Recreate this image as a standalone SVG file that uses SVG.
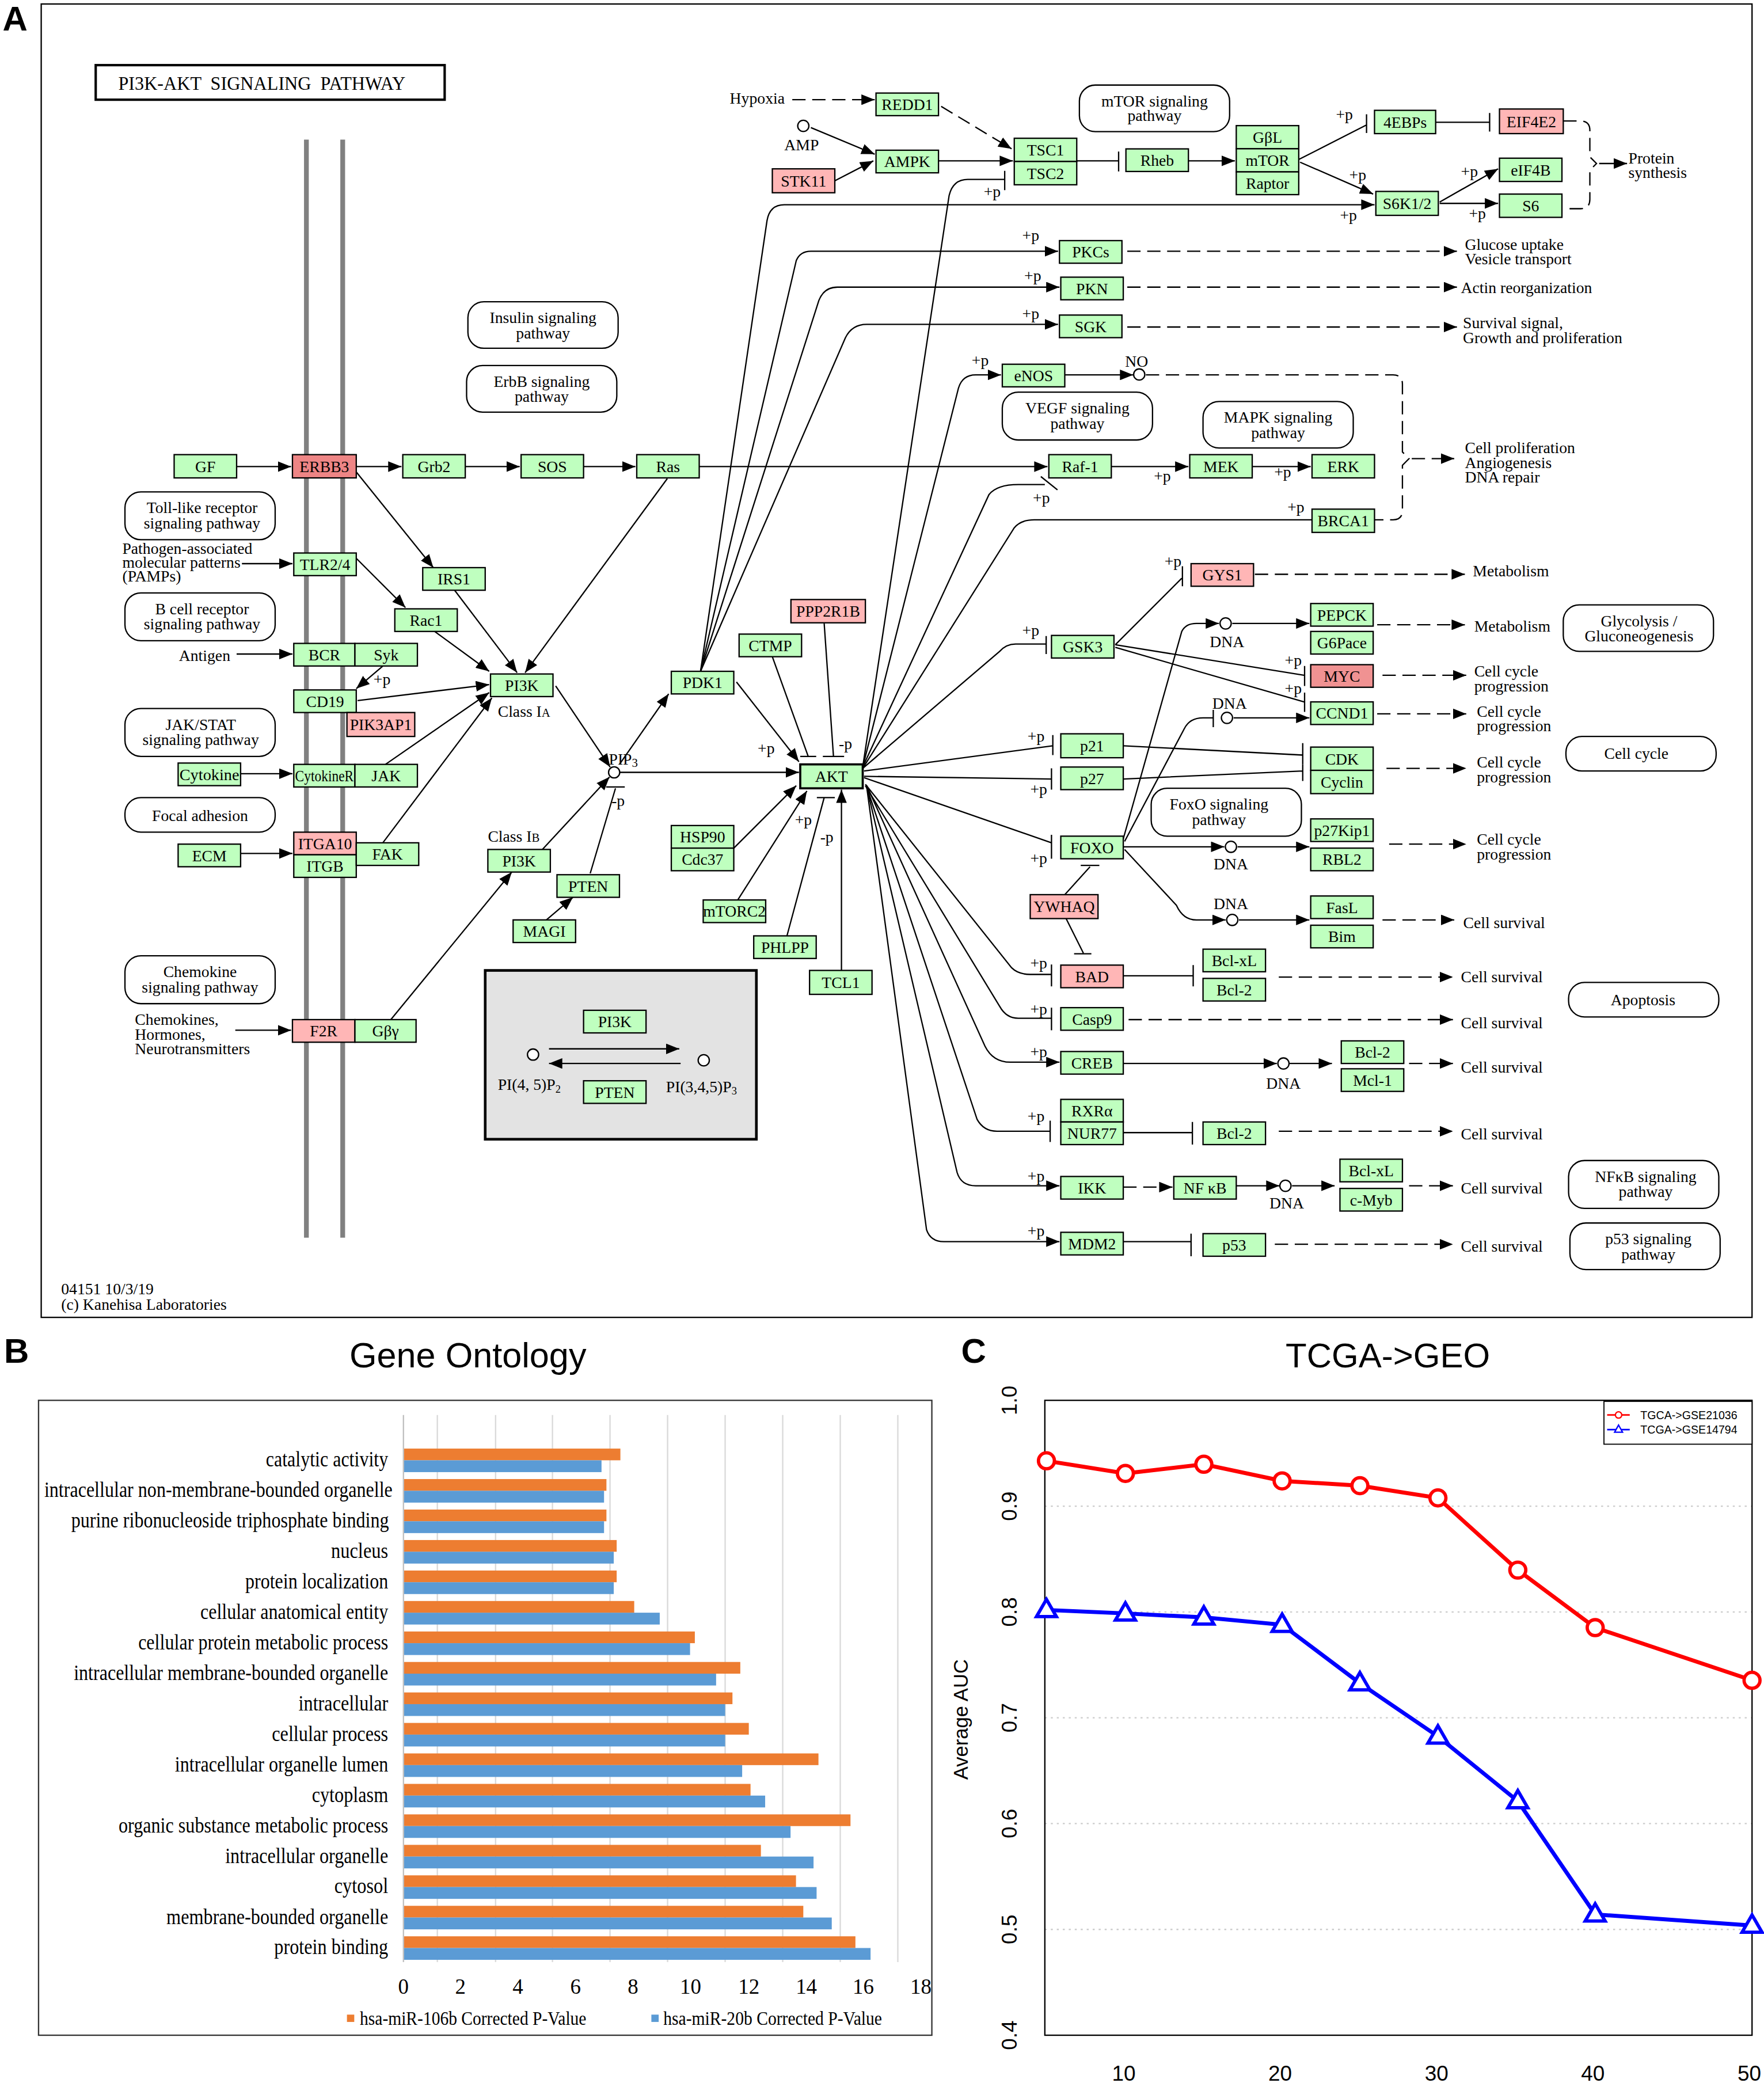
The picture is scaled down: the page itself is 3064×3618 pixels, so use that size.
<svg xmlns="http://www.w3.org/2000/svg" width="3064" height="3618" viewBox="0 0 3064 3618">
<style>
.n rect{fill:#bfffbf;stroke:#000;stroke-width:1}
.r rect{fill:#ffb6b6}
.rr rect{fill:#ee8585}
.n text,.lb{font-family:"Liberation Serif",serif;font-size:12px;fill:#000}
.n text,.m{text-anchor:middle}
.pw rect{fill:#fff;stroke:#000;stroke-width:1}
.pw text{font-family:"Liberation Serif",serif;font-size:12px;text-anchor:middle}
#connectors path{fill:none;stroke:#000;stroke-width:1}
#connectors .a{marker-end:url(#ar)}
#connectors .d{stroke-dasharray:10 5}
.cp circle{fill:#fff;stroke:#000;stroke-width:1}
.gl{font-family:"Liberation Serif",serif;font-size:16px;text-anchor:end}
.ax{font-family:"Liberation Serif",serif;font-size:16px;text-anchor:middle}
.sans{font-family:"Liberation Sans",Arial,sans-serif}
.pl{font-family:"Liberation Sans",Arial,sans-serif;font-weight:bold;font-size:26px}
</style>
<defs>
<marker id="ar" viewBox="0 0 10 8" refX="10" refY="4" markerWidth="10" markerHeight="8" orient="auto" markerUnits="userSpaceOnUse"><path d="M0,0 L10,4 L0,8 z" fill="#000"/></marker>
</defs>
<rect width="3064" height="3618" fill="#fff"/>
<g transform="scale(2.30897)">
<!-- Panel A -->
<text class="pl" x="2" y="23">A</text>
<rect x="31" y="3" width="1287" height="988" fill="none" stroke="#000" stroke-width="1"/>
<g id="title"><rect x="72" y="49" width="262.5" height="26" fill="#fff" stroke="#000" stroke-width="1.8"/><text class="lb" x="89" y="67.5" style="font-size:15px;white-space:pre" textLength="216" lengthAdjust="spacingAndGlyphs">PI3K-AKT  SIGNALING  PATHWAY</text></g>
<g id="membrane" stroke="#808080" stroke-width="3.6"><line x1="230.5" y1="105" x2="230.5" y2="931"/><line x1="257.8" y1="105" x2="257.8" y2="931"/></g>

<g id="pathways" class="pw">
<g id="pw-mtor"><rect x="812" y="64" width="113" height="35" rx="12"/><text x="868.5" y="80">mTOR signaling</text><text x="868.5" y="91">pathway</text></g>
<g id="pw-insulin"><rect x="352" y="227" width="113" height="35" rx="12"/><text x="408.5" y="243">Insulin signaling</text><text x="408.5" y="254.5">pathway</text></g>
<g id="pw-erbb"><rect x="351" y="275" width="113" height="35" rx="12"/><text x="407.5" y="291">ErbB signaling</text><text x="407.5" y="302.5">pathway</text></g>
<g id="pw-toll"><rect x="94" y="370" width="113" height="36" rx="12"/><text x="152" y="386">Toll-like receptor</text><text x="152" y="397.5">signaling pathway</text></g>
<g id="pw-bcell"><rect x="94" y="446" width="113" height="36" rx="12"/><text x="152" y="462">B cell receptor</text><text x="152" y="473.5">signaling pathway</text></g>
<g id="pw-jak"><rect x="94" y="533" width="113" height="36" rx="12"/><text x="151" y="549">JAK/STAT</text><text x="151" y="560.5">signaling pathway</text></g>
<g id="pw-focal"><rect x="94" y="600" width="113" height="26" rx="12"/><text x="150.5" y="617.5">Focal adhesion</text></g>
<g id="pw-chemokine"><rect x="94" y="719" width="113" height="36" rx="12"/><text x="150.5" y="735">Chemokine</text><text x="150.5" y="746.5">signaling pathway</text></g>
<g id="pw-vegf"><rect x="754" y="295" width="113" height="36" rx="12"/><text x="810.5" y="311">VEGF signaling</text><text x="810.5" y="322.5">pathway</text></g>
<g id="pw-mapk"><rect x="905" y="302" width="113" height="35" rx="12"/><text x="961.5" y="318">MAPK signaling</text><text x="961.5" y="329.5">pathway</text></g>
<g id="pw-foxo"><rect x="866" y="593" width="113" height="36" rx="12"/><text x="917" y="609">FoxO signaling</text><text x="917" y="620.5">pathway</text></g>
<g id="pw-glyco"><rect x="1176" y="455" width="113" height="35" rx="12"/><text x="1233" y="471">Glycolysis /</text><text x="1233" y="482.5">Gluconeogenesis</text></g>
<g id="pw-cellcycle"><rect x="1178" y="554" width="113" height="26" rx="12"/><text x="1231" y="571">Cell cycle</text></g>
<g id="pw-apoptosis"><rect x="1180" y="739" width="113" height="26" rx="12"/><text x="1236" y="756">Apoptosis</text></g>
<g id="pw-nfkb"><rect x="1180" y="873" width="113" height="36" rx="12"/><text x="1238" y="889">NFκB signaling</text><text x="1238" y="900.5">pathway</text></g>
<g id="pw-p53"><rect x="1181" y="920" width="113" height="35" rx="12"/><text x="1240" y="936">p53 signaling</text><text x="1240" y="947.5">pathway</text></g>
</g>

<g id="legendbox"><rect x="365" y="730" width="204" height="127" fill="#e3e3e3" stroke="#000" stroke-width="2"/>
<text class="lb" x="374.5" y="820">PI(4, 5)P<tspan font-size="8" dy="2">2</tspan></text>
<text class="lb" x="501" y="821.5">PI(3,4,5)P<tspan font-size="8" dy="2">3</tspan></text></g>

<g id="connectors">
<path class="a" d="M178,351 H219"/>
<path class="a" d="M268,351 H302"/>
<path class="a" d="M350,351 H391"/>
<path class="a" d="M439,351 H478"/>
<path class="a" d="M526,351 H788"/>
<path class="a" d="M836,351 H894"/>
<path class="a" d="M942,351 H986"/>
<path class="a" d="M268,355 L326,427"/>
<path class="a" d="M502,360 L395,506"/>
<path class="a" d="M182,424 H220"/>
<path class="a" d="M268,420 L305,457"/>
<path class="a" d="M342,444 L389,506"/>
<path class="a" d="M327,475 L368,505"/>
<path class="a" d="M178,492 H220"/>
<path class="a" d="M288,501 L268,518"/>
<path class="a" d="M269,527 L368,515"/>
<path class="a" d="M181,582 H220"/>
<path class="a" d="M290,575 L368,521"/>
<path class="a" d="M181,642 H220"/>
<path class="a" d="M288,634 L370,525"/>
<path class="a" d="M177,775 H219"/>
<path class="a" d="M294,767 L385,656"/>
<path class="a" d="M418,516 L459,577"/>
<path class="a" d="M408,639 L458.5,584.5"/>
<path class="a" d="M466,581 H601"/>
<path class="a" d="M466,575 L503,522"/>
<path class="a" d="M411,692 L431,675"/>
<path class="a" d="M413,789 H511"/>
<path class="a" d="M512,800 H413"/>
<path class="a d" d="M596,75 H658"/>
<path class="a d" d="M708,80 L761,112"/>
<path class="a" d="M610,96 L658,116"/>
<path class="a" d="M628,136 L657,121"/>
<path class="a" d="M706,121 H762"/>
<path d="M810,121 H841.5 M841.5,114 V129"/>
<path class="a" d="M894,121 H929"/>
<path d="M977,120 L1028,94 M1028,86 V100"/>
<path d="M1080,92 H1120.6 M1120.6,85 V99"/>
<path class="a" d="M978,122 L1033,146"/>
<path class="a" d="M1083,152 L1127,127"/>
<path class="a" d="M1083,153 H1127"/>
<path class="d" d="M1176,91 H1189 Q1196,91 1196,98 V118 L1201,123 L1196,128 V150 Q1196,157 1189,157 H1176"/>
<path class="a" d="M1203,123 H1224"/>
<path class="a" d="M527,505 L577,166 Q579,154 590,154 H1034"/>
<path class="a" d="M527,505 L599,196 Q602,189 610,189 H796"/>
<path class="a" d="M527,505 L616,226 Q620,216 630,216 H797"/>
<path class="a" d="M527,505 L636,254 Q641,244 652,244 H796"/>
<path class="a d" d="M848,189 H1096"/>
<path class="a d" d="M848,216 H1096"/>
<path class="a d" d="M848,246 H1096"/>
<path d="M649,577 L714,147 Q717,135 728,135 H755.8 M755.8,128.5 V143"/>
<path class="a" d="M649,577 L721,292 Q724,282 734,282 H753"/>
<path class="a" d="M801,282 H852.5"/>
<path class="d" d="M862,282 H1048 Q1055,282 1055,289 V340 L1060,345 L1055,350 V384 Q1055,391 1048,391 H1034"/>
<path class="a d" d="M1062,345 H1094"/>
<path d="M649,577 L744,372 Q750,364.5 766,364.5 H786 M783,358.5 L795.5,368.5"/>
<path d="M649,578 L763,397 Q768,391 778,391 H987"/>
<path d="M649,578 L752,490 Q757,484.5 764,484.5 H787 M787,478.5 V492"/>
<path d="M839,485 L889,435 M889.5,426 V441"/>
<path class="a d" d="M944,432 H1102"/>
<path d="M839,485 L981,508 M981.4,501 V516"/>
<path d="M839,487 L981,528 M981.4,521 V535.5"/>
<path class="a" d="M845,631 L889,475 Q892,469 900,469 H917"/>
<path class="a" d="M927,469 H985"/>
<path class="a d" d="M1036,470 H1102"/>
<path class="a d" d="M1040,508 H1103"/>
<path d="M846,633 L891,548 Q895,540 905,540 H912.7 M912.7,534 V547"/>
<path class="a" d="M928,540 H985"/>
<path class="a d" d="M1036,537 H1103"/>
<path d="M650,580 L792,561 M792,553 V568"/>
<path d="M650,584 L791,586 M791,578 V594"/>
<path d="M845,561 L980,568 M980,559 V575"/>
<path d="M845,586 L980,580 M980,575 V587.5"/>
<path class="a d" d="M1043,578 H1103"/>
<path d="M650,585 L791,634 M791,628 V646"/>
<path class="a" d="M845,637 H921"/>
<path class="a" d="M931,637 H985"/>
<path class="a d" d="M1045,635 H1103"/>
<path class="a" d="M846,639 L885,681 Q890,692 900,692 H922"/>
<path class="a" d="M932,692 H985"/>
<path class="a d" d="M1040,692 H1094"/>
<path d="M801,673 L820,652 M813,651 H827"/>
<path d="M802,691 L815,717 M808,717.5 H821"/>
<path d="M651,590 L761,728 Q766,733 775,733 H791 M791,725.5 V742"/>
<path d="M845,734 H897.6 M897.6,726 V742"/>
<path class="a d" d="M962,735 H1093"/>
<path d="M651,591 L752,757 Q757,766 766,766 H791 M791,758 V775"/>
<path class="a d" d="M849,767 H1093"/>
<path class="a" d="M652,591 L741,787 Q747,799 760,799 H797"/>
<path class="a" d="M845,800 H960.5"/>
<path class="a" d="M970,800 H1002"/>
<path class="a d" d="M1060,800 H1093"/>
<path d="M652,592 L735,842 Q740,851 750,851 H790 M790,843 V859"/>
<path d="M845,852 H897 M897,844 V861"/>
<path class="a d" d="M962,851 H1093"/>
<path class="a" d="M652,592 L720,882 Q723,892 734,892 H797"/>
<path class="a d" d="M845,893 H882"/>
<path class="a" d="M930,892 H962.5"/>
<path class="a" d="M972,892 H1004"/>
<path class="a d" d="M1060,892 H1093"/>
<path class="a" d="M652,592 L697,925 Q700,934 710,934 H797"/>
<path d="M845,934 H896 M896,928 V945"/>
<path class="a d" d="M959,936 H1093"/>
<path class="a" d="M554,513 L601,573"/>
<path class="a" d="M552,638 L599,591"/>
<path class="a" d="M555,677 L607,595"/>
<path class="a" d="M633,730 V594"/>
<path d="M581,494 L608,569 M602,569 H614"/>
<path d="M620,469 L627,569 M619,569 H635"/>
<path d="M592,704 L620,600 M614.5,600 H628"/>
<path d="M444,657 L463,593 M456,592 H470"/>
</g>

<g id="compounds" class="cp">
<circle cx="604.3" cy="94.7" r="4.2"/><circle cx="857" cy="281.7" r="4.2"/><circle cx="462" cy="581" r="4.2"/>
<circle cx="922" cy="469" r="4.2"/><circle cx="923" cy="540" r="4.2"/><circle cx="926" cy="637" r="4.2"/><circle cx="927" cy="692" r="4.2"/>
<circle cx="965.5" cy="800" r="4.2"/><circle cx="967" cy="892" r="4.2"/><circle cx="401" cy="793.3" r="4.2"/><circle cx="529.4" cy="797.6" r="4.2"/>
</g>

<g id="nodes">
<g id="n-GF" class="n"><rect x="131" y="342" width="47" height="17.5"/><text x="154.5" y="355">GF</text></g>
<g id="n-ERBB3" class="n rr"><rect x="220" y="342" width="48" height="17.5"/><text x="244" y="355">ERBB3</text></g>
<g id="n-Grb2" class="n"><rect x="303" y="342" width="47" height="17.5"/><text x="326.5" y="355">Grb2</text></g>
<g id="n-SOS" class="n"><rect x="392" y="342" width="47" height="17.5"/><text x="415.5" y="355">SOS</text></g>
<g id="n-Ras" class="n"><rect x="479" y="342" width="47" height="17.5"/><text x="502.5" y="355">Ras</text></g>
<g id="n-TLR" class="n"><rect x="221" y="416" width="47" height="17"/><text x="244.5" y="428.7">TLR2/4</text></g>
<g id="n-IRS1" class="n"><rect x="318" y="427" width="47" height="17"/><text x="341.5" y="439.7">IRS1</text></g>
<g id="n-Rac1" class="n"><rect x="297" y="458" width="47" height="17"/><text x="320.5" y="470.7">Rac1</text></g>
<g id="n-BCR" class="n"><rect x="221" y="484" width="46" height="17"/><text x="244" y="496.7">BCR</text></g>
<g id="n-Syk" class="n"><rect x="267" y="484" width="47" height="17"/><text x="290.5" y="496.7">Syk</text></g>
<g id="n-CD19" class="n"><rect x="221" y="519" width="47" height="17"/><text x="244.5" y="531.7">CD19</text></g>
<g id="n-PIK3AP1" class="n r"><rect x="261" y="536" width="51" height="18"/><text x="286.5" y="549.2">PIK3AP1</text></g>
<g id="n-PI3K1" class="n"><rect x="369" y="507" width="47" height="17"/><text x="392.5" y="519.7">PI3K</text></g>
<g id="n-Cytokine" class="n"><rect x="134" y="574" width="47" height="17"/><text x="157.5" y="586.7" textLength="45" lengthAdjust="spacingAndGlyphs">Cytokine</text></g>
<g id="n-CytokineR" class="n"><rect x="221" y="575" width="46" height="17"/><text x="244" y="587.7" textLength="44" lengthAdjust="spacingAndGlyphs">CytokineR</text></g>
<g id="n-JAK" class="n"><rect x="267" y="575" width="47" height="17"/><text x="290.5" y="587.7">JAK</text></g>
<g id="n-ECM" class="n"><rect x="134" y="635" width="47" height="17"/><text x="157.5" y="647.7">ECM</text></g>
<g id="n-ITGA10" class="n r"><rect x="221" y="626" width="47" height="17"/><text x="244.5" y="638.7">ITGA10</text></g>
<g id="n-ITGB" class="n"><rect x="221" y="643" width="47" height="17"/><text x="244.5" y="655.7">ITGB</text></g>
<g id="n-FAK" class="n"><rect x="268" y="634" width="47" height="17"/><text x="291.5" y="646.7">FAK</text></g>
<g id="n-F2R" class="n r"><rect x="220" y="767" width="47" height="17"/><text x="243.5" y="779.7">F2R</text></g>
<g id="n-Gby" class="n"><rect x="267" y="767" width="46" height="17"/><text x="290" y="779.7">Gβγ</text></g>
<g id="n-PI3K2" class="n"><rect x="367" y="639" width="47" height="17"/><text x="390.5" y="651.7">PI3K</text></g>
<g id="n-PTEN" class="n"><rect x="419" y="658" width="47" height="17"/><text x="442.5" y="670.7">PTEN</text></g>
<g id="n-MAGI" class="n"><rect x="386" y="692" width="47" height="17"/><text x="409.5" y="704.7">MAGI</text></g>
<g id="n-PI3Kleg" class="n"><rect x="439" y="760" width="47" height="17"/><text x="462.5" y="772.7">PI3K</text></g>
<g id="n-PTENleg" class="n"><rect x="439" y="813" width="47" height="17"/><text x="462.5" y="825.7">PTEN</text></g>
<g id="n-REDD1" class="n"><rect x="659" y="70" width="47" height="17"/><text x="682.5" y="82.7">REDD1</text></g>
<g id="n-STK11" class="n r"><rect x="581" y="127" width="47" height="18"/><text x="604.5" y="140.2">STK11</text></g>
<g id="n-AMPK" class="n"><rect x="659" y="113" width="47" height="17"/><text x="682.5" y="125.7">AMPK</text></g>
<g id="n-TSC1" class="n"><rect x="763" y="104" width="47" height="17.5"/><text x="786.5" y="117">TSC1</text></g>
<g id="n-TSC2" class="n"><rect x="763" y="121.5" width="47" height="17.5"/><text x="786.5" y="134.5">TSC2</text></g>
<g id="n-Rheb" class="n"><rect x="847" y="112" width="47" height="17"/><text x="870.5" y="124.7">Rheb</text></g>
<g id="n-GbL" class="n"><rect x="930" y="94.5" width="47" height="17.4"/><text x="953.5" y="107.4">GβL</text></g>
<g id="n-mTOR" class="n"><rect x="930" y="111.9" width="47" height="17.4"/><text x="953.5" y="124.8">mTOR</text></g>
<g id="n-Raptor" class="n"><rect x="930" y="129.3" width="47" height="17.1"/><text x="953.5" y="142.1">Raptor</text></g>
<g id="n-4EBPs" class="n"><rect x="1034" y="83" width="46" height="17.5"/><text x="1057" y="96">4EBPs</text></g>
<g id="n-EIF4E2" class="n r"><rect x="1128" y="82" width="48" height="18.5"/><text x="1152" y="95.5">EIF4E2</text></g>
<g id="n-S6K" class="n"><rect x="1035" y="144" width="47" height="18"/><text x="1058.5" y="157.2">S6K1/2</text></g>
<g id="n-eIF4B" class="n"><rect x="1128" y="119" width="47" height="17.5"/><text x="1151.5" y="132">eIF4B</text></g>
<g id="n-S6" class="n"><rect x="1128" y="146" width="47" height="17.5"/><text x="1151.5" y="159">S6</text></g>
<g id="n-PKCs" class="n"><rect x="797" y="181" width="47" height="17"/><text x="820.5" y="193.7">PKCs</text></g>
<g id="n-PKN" class="n"><rect x="798" y="208.5" width="47" height="17"/><text x="821.5" y="221.2">PKN</text></g>
<g id="n-SGK" class="n"><rect x="797" y="237" width="47" height="17"/><text x="820.5" y="249.7">SGK</text></g>
<g id="n-eNOS" class="n"><rect x="754" y="274" width="47" height="17"/><text x="777.5" y="286.7">eNOS</text></g>
<g id="n-Raf1" class="n"><rect x="789" y="342" width="47" height="17.5"/><text x="812.5" y="355">Raf-1</text></g>
<g id="n-MEK" class="n"><rect x="895" y="342" width="47" height="17.5"/><text x="918.5" y="355">MEK</text></g>
<g id="n-ERK" class="n"><rect x="987" y="342" width="47" height="17.5"/><text x="1010.5" y="355">ERK</text></g>
<g id="n-BRCA1" class="n"><rect x="987" y="383" width="47" height="17.5"/><text x="1010.5" y="396">BRCA1</text></g>
<g id="n-PPP2R1B" class="n r"><rect x="595" y="451" width="56" height="17.5"/><text x="623" y="464">PPP2R1B</text></g>
<g id="n-CTMP" class="n"><rect x="556" y="477" width="47" height="17"/><text x="579.5" y="489.7">CTMP</text></g>
<g id="n-PDK1" class="n"><rect x="505" y="505" width="47" height="17"/><text x="528.5" y="517.7">PDK1</text></g>
<g id="n-AKT" class="n"><rect x="602" y="575" width="47" height="18" style="stroke-width:1.6"/><text x="625.5" y="588.2">AKT</text></g>
<g id="n-HSP90" class="n"><rect x="505" y="621" width="47" height="17"/><text x="528.5" y="633.7">HSP90</text></g>
<g id="n-Cdc37" class="n"><rect x="505" y="638" width="47" height="17"/><text x="528.5" y="650.7">Cdc37</text></g>
<g id="n-mTORC2" class="n"><rect x="529" y="677" width="47" height="17"/><text x="552.5" y="689.7">mTORC2</text></g>
<g id="n-PHLPP" class="n"><rect x="567" y="704" width="47" height="17"/><text x="590.5" y="716.7">PHLPP</text></g>
<g id="n-TCL1" class="n"><rect x="609" y="730" width="47" height="18"/><text x="632.5" y="743.2">TCL1</text></g>
<g id="n-GYS1" class="n r"><rect x="896" y="424" width="47" height="17"/><text x="919.5" y="436.7">GYS1</text></g>
<g id="n-GSK3" class="n"><rect x="791" y="478" width="47" height="17"/><text x="814.5" y="490.7">GSK3</text></g>
<g id="n-PEPCK" class="n"><rect x="986" y="454" width="47" height="17"/><text x="1009.5" y="466.7">PEPCK</text></g>
<g id="n-G6Pace" class="n"><rect x="986" y="475" width="47" height="17"/><text x="1009.5" y="487.7">G6Pace</text></g>
<g id="n-MYC" class="n rr"><rect x="986" y="500" width="47" height="17" style="fill:#f09292"/><text x="1009.5" y="512.7">MYC</text></g>
<g id="n-CCND1" class="n"><rect x="986" y="528" width="47" height="17"/><text x="1009.5" y="540.7">CCND1</text></g>
<g id="n-p21" class="n"><rect x="798" y="552" width="47" height="18"/><text x="821.5" y="565.2">p21</text></g>
<g id="n-p27" class="n"><rect x="798" y="577" width="47" height="17"/><text x="821.5" y="589.7">p27</text></g>
<g id="n-CDK" class="n"><rect x="986" y="562" width="47" height="17.5"/><text x="1009.5" y="575">CDK</text></g>
<g id="n-Cyclin" class="n"><rect x="986" y="579.5" width="47" height="17.5"/><text x="1009.5" y="592.5">Cyclin</text></g>
<g id="n-FOXO" class="n"><rect x="798" y="629" width="47" height="17"/><text x="821.5" y="641.7">FOXO</text></g>
<g id="n-p27Kip1" class="n"><rect x="986" y="616" width="47" height="17"/><text x="1009.5" y="628.7">p27Kip1</text></g>
<g id="n-RBL2" class="n"><rect x="986" y="638" width="47" height="17"/><text x="1009.5" y="650.7">RBL2</text></g>
<g id="n-FasL" class="n"><rect x="986" y="674" width="47" height="17"/><text x="1009.5" y="686.7">FasL</text></g>
<g id="n-Bim" class="n"><rect x="986" y="696" width="47" height="17"/><text x="1009.5" y="708.7">Bim</text></g>
<g id="n-YWHAQ" class="n r"><rect x="775" y="673" width="51" height="18"/><text x="800.5" y="686.2">YWHAQ</text></g>
<g id="n-BAD" class="n r"><rect x="798" y="726" width="47" height="17"/><text x="821.5" y="738.7">BAD</text></g>
<g id="n-BclxL1" class="n"><rect x="905" y="714" width="47" height="17"/><text x="928.5" y="726.7">Bcl-xL</text></g>
<g id="n-Bcl2a" class="n"><rect x="905" y="736" width="47" height="17"/><text x="928.5" y="748.7">Bcl-2</text></g>
<g id="n-Casp9" class="n"><rect x="798" y="758" width="47" height="17"/><text x="821.5" y="770.7">Casp9</text></g>
<g id="n-CREB" class="n"><rect x="798" y="791" width="47" height="17"/><text x="821.5" y="803.7">CREB</text></g>
<g id="n-Bcl2b" class="n"><rect x="1009" y="783" width="47" height="17"/><text x="1032.5" y="795.7">Bcl-2</text></g>
<g id="n-Mcl1" class="n"><rect x="1009" y="804" width="47" height="17"/><text x="1032.5" y="816.7">Mcl-1</text></g>
<g id="n-RXRa" class="n"><rect x="798" y="827" width="47" height="17"/><text x="821.5" y="839.7">RXRα</text></g>
<g id="n-NUR77" class="n"><rect x="798" y="844" width="47" height="17"/><text x="821.5" y="856.7">NUR77</text></g>
<g id="n-Bcl2c" class="n"><rect x="905" y="844" width="47" height="17"/><text x="928.5" y="856.7">Bcl-2</text></g>
<g id="n-IKK" class="n"><rect x="798" y="885" width="47" height="17"/><text x="821.5" y="897.7">IKK</text></g>
<g id="n-NFkB" class="n"><rect x="883" y="885" width="47" height="17"/><text x="906.5" y="897.7">NF κB</text></g>
<g id="n-BclxL2" class="n"><rect x="1008" y="872" width="47" height="17"/><text x="1031.5" y="884.7">Bcl-xL</text></g>
<g id="n-cMyb" class="n"><rect x="1008" y="894" width="47" height="17"/><text x="1031.5" y="906.7">c-Myb</text></g>
<g id="n-MDM2" class="n"><rect x="798" y="927" width="47" height="17"/><text x="821.5" y="939.7">MDM2</text></g>
<g id="n-p53" class="n"><rect x="905" y="928" width="47" height="17"/><text x="928.5" y="940.7">p53</text></g>
</g>

<g id="labels" class="lb">
<text x="549" y="78">Hypoxia</text>
<text class="m" x="603" y="113">AMP</text>
<text class="m" x="855" y="276">NO</text>
<text x="458" y="575">PIP<tspan font-size="9" dy="2">3</tspan></text>
<text x="374.5" y="539">Class I<tspan font-size="9">A</tspan></text>
<text x="367" y="633">Class I<tspan font-size="9">B</tspan></text>
<text x="92" y="416.5">Pathogen-associated</text>
<text x="92" y="427">molecular patterns</text>
<text x="92" y="437.5">(PAMPs)</text>
<text x="134.6" y="497">Antigen</text>
<text x="101.5" y="771">Chemokines,</text>
<text x="101.5" y="782">Hormones,</text>
<text x="101.5" y="793">Neurotransmitters</text>
<text x="46" y="973.5">04151 10/3/19</text>
<text x="46" y="985.5">(c) Kanehisa Laboratories</text>
<text x="1225" y="123">Protein</text><text x="1225" y="134">synthesis</text>
<text x="1102" y="188">Glucose uptake</text><text x="1102" y="199">Vesicle transport</text>
<text x="1099" y="220.5">Actin reorganization</text>
<text x="1100.5" y="247">Survival signal,</text><text x="1100.5" y="258">Growth and proliferation</text>
<text x="1102" y="341">Cell proliferation</text><text x="1102" y="352">Angiogenesis</text><text x="1102" y="363">DNA repair</text>
<text x="1108" y="433.5">Metabolism</text>
<text x="1109" y="475">Metabolism</text>
<text class="m" x="923" y="487">DNA</text>
<text class="m" x="925" y="533">DNA</text>
<text class="m" x="926" y="654">DNA</text>
<text class="m" x="926" y="684">DNA</text>
<text class="m" x="965.5" y="819">DNA</text>
<text class="m" x="968" y="909">DNA</text>
<text x="1109" y="509">Cell cycle</text><text x="1109" y="520">progression</text>
<text x="1111" y="539">Cell cycle</text><text x="1111" y="550">progression</text>
<text x="1111" y="577.5">Cell cycle</text><text x="1111" y="588.5">progression</text>
<text x="1111" y="635.5">Cell cycle</text><text x="1111" y="646.5">progression</text>
<text x="1100.7" y="698">Cell survival</text>
<text x="1099" y="739">Cell survival</text>
<text x="1099" y="773.5">Cell survival</text>
<text x="1099" y="807">Cell survival</text>
<text x="1099" y="857">Cell survival</text>
<text x="1099" y="898">Cell survival</text>
<text x="1099" y="941.5">Cell survival</text>
<text x="1005" y="90">+p</text><text x="1015" y="135.5">+p</text><text x="1008" y="166">+p</text><text x="1099" y="133">+p</text><text x="1105" y="164.5">+p</text>
<text x="740" y="148">+p</text><text x="769" y="181">+p</text><text x="770.5" y="211.5">+p</text><text x="769" y="240">+p</text><text x="731" y="275">+p</text>
<text x="868" y="362">+p</text><text x="958.5" y="359">+p</text><text x="777" y="378.5">+p</text><text x="968.5" y="385.5">+p</text><text x="876" y="426">+p</text>
<text x="769" y="478">+p</text><text x="966.5" y="500.5">+p</text><text x="966.5" y="522">+p</text><text x="773" y="558">+p</text><text x="775" y="597.5">+p</text>
<text x="775" y="649.5">+p</text><text x="775" y="728.5">+p</text><text x="775" y="763">+p</text><text x="775" y="795">+p</text><text x="773" y="843.5">+p</text>
<text x="773" y="888.5">+p</text><text x="773" y="930">+p</text><text x="281" y="515">+p</text><text x="570" y="567">+p</text><text x="598" y="620.5">+p</text>
<text x="631" y="563.5">-p</text><text x="617" y="633.5">-p</text><text x="460" y="606.5">-p</text>
</g>

<!-- Panel B -->
<g id="panelB">
<text class="pl" x="3" y="1025">B</text>
<text class="sans" x="352" y="1028.5" font-size="26.5" text-anchor="middle">Gene Ontology</text>
<rect x="29" y="1053.4" width="672" height="477.6" fill="#fff" stroke="#333" stroke-width="1"/>
<g stroke="#d9d9d9" stroke-width="1">
<line x1="329" y1="1064.4" x2="329" y2="1476"/><line x1="372.8" y1="1064.4" x2="372.8" y2="1476"/><line x1="415.6" y1="1064.4" x2="415.6" y2="1476"/><line x1="458.9" y1="1064.4" x2="458.9" y2="1476"/><line x1="502.2" y1="1064.4" x2="502.2" y2="1476"/><line x1="545.5" y1="1064.4" x2="545.5" y2="1476"/><line x1="588.8" y1="1064.4" x2="588.8" y2="1476"/><line x1="632.1" y1="1064.4" x2="632.1" y2="1476"/><line x1="675.4" y1="1064.4" x2="675.4" y2="1476"/>
<line x1="303.5" y1="1064.4" x2="303.5" y2="1476" stroke="#bfbfbf"/>
</g>
<g id="bars-orange" fill="#ed7d31">
<rect x="304" y="1089.7" width="162.7" height="8.8"/><rect x="304" y="1112.63" width="152.2" height="8.8"/><rect x="304" y="1135.56" width="152.2" height="8.8"/><rect x="304" y="1158.49" width="159.9" height="8.8"/><rect x="304" y="1181.42" width="159.9" height="8.8"/><rect x="304" y="1204.35" width="173.1" height="8.8"/><rect x="304" y="1227.28" width="218.7" height="8.8"/><rect x="304" y="1250.21" width="252.9" height="8.8"/><rect x="304" y="1273.14" width="247" height="8.8"/><rect x="304" y="1296.07" width="259.3" height="8.8"/><rect x="304" y="1319" width="311.7" height="8.8"/><rect x="304" y="1341.93" width="260.6" height="8.8"/><rect x="304" y="1364.86" width="335.8" height="8.8"/><rect x="304" y="1387.79" width="268.4" height="8.8"/><rect x="304" y="1410.72" width="294.8" height="8.8"/><rect x="304" y="1433.65" width="300.3" height="8.8"/><rect x="304" y="1456.58" width="339.5" height="8.8"/>
</g>
<g id="bars-blue" fill="#5b9bd5">
<rect x="304" y="1098.5" width="148.5" height="8.9"/><rect x="304" y="1121.43" width="150.4" height="8.9"/><rect x="304" y="1144.36" width="150.4" height="8.9"/><rect x="304" y="1167.29" width="157.7" height="8.9"/><rect x="304" y="1190.22" width="157.7" height="8.9"/><rect x="304" y="1213.15" width="192.3" height="8.9"/><rect x="304" y="1236.08" width="215.1" height="8.9"/><rect x="304" y="1259.01" width="234.7" height="8.9"/><rect x="304" y="1281.94" width="241.5" height="8.9"/><rect x="304" y="1304.87" width="241.5" height="8.9"/><rect x="304" y="1327.8" width="254.3" height="8.9"/><rect x="304" y="1350.73" width="271.6" height="8.9"/><rect x="304" y="1373.66" width="290.7" height="8.9"/><rect x="304" y="1396.59" width="308" height="8.9"/><rect x="304" y="1419.52" width="310.3" height="8.9"/><rect x="304" y="1442.45" width="321.7" height="8.9"/><rect x="304" y="1465.38" width="350.9" height="8.9"/>
</g>
<g id="go-labels" class="gl">
<text x="292" y="1103.2" textLength="92" lengthAdjust="spacingAndGlyphs">catalytic activity</text>
<text x="295.3" y="1126.1" textLength="262" lengthAdjust="spacingAndGlyphs">intracellular non-membrane-bounded organelle</text>
<text x="292.6" y="1149.1" textLength="239" lengthAdjust="spacingAndGlyphs">purine ribonucleoside triphosphate binding</text>
<text x="292" y="1172" textLength="43" lengthAdjust="spacingAndGlyphs">nucleus</text>
<text x="292" y="1194.9" textLength="107.5" lengthAdjust="spacingAndGlyphs">protein localization</text>
<text x="292" y="1217.9" textLength="141.3" lengthAdjust="spacingAndGlyphs">cellular anatomical entity</text>
<text x="292" y="1240.8" textLength="188" lengthAdjust="spacingAndGlyphs">cellular protein metabolic process</text>
<text x="292" y="1263.7" textLength="236.5" lengthAdjust="spacingAndGlyphs">intracellular membrane-bounded organelle</text>
<text x="292" y="1286.6" textLength="67.4" lengthAdjust="spacingAndGlyphs">intracellular</text>
<text x="292" y="1309.6" textLength="87.5" lengthAdjust="spacingAndGlyphs">cellular process</text>
<text x="292" y="1332.5" textLength="160.4" lengthAdjust="spacingAndGlyphs">intracellular organelle lumen</text>
<text x="292" y="1355.4" textLength="57.4" lengthAdjust="spacingAndGlyphs">cytoplasm</text>
<text x="292" y="1378.4" textLength="202.8" lengthAdjust="spacingAndGlyphs">organic substance metabolic process</text>
<text x="292" y="1401.3" textLength="122.6" lengthAdjust="spacingAndGlyphs">intracellular organelle</text>
<text x="292" y="1424.2" textLength="40.5" lengthAdjust="spacingAndGlyphs">cytosol</text>
<text x="292" y="1447.2" textLength="166.8" lengthAdjust="spacingAndGlyphs">membrane-bounded organelle</text>
<text x="292" y="1470.1" textLength="85.7" lengthAdjust="spacingAndGlyphs">protein binding</text>
</g>
<g id="go-xaxis" class="ax">
<text x="303.5" y="1500">0</text><text x="346.4" y="1500">2</text><text x="389.6" y="1500">4</text><text x="433" y="1500">6</text><text x="476.2" y="1500">8</text><text x="519.5" y="1500">10</text><text x="563.3" y="1500">12</text><text x="606.6" y="1500">14</text><text x="649.4" y="1500">16</text><text x="692.7" y="1500">18</text>
</g>
<g id="go-legend">
<rect x="261" y="1515.5" width="5.5" height="5.5" fill="#ed7d31"/>
<text x="270.7" y="1523" font-family="Liberation Serif, serif" font-size="15" textLength="170.4" lengthAdjust="spacingAndGlyphs">hsa-miR-106b Corrected P-Value</text>
<rect x="490" y="1515.5" width="5.5" height="5.5" fill="#5b9bd5"/>
<text x="499" y="1523" font-family="Liberation Serif, serif" font-size="15" textLength="164.5" lengthAdjust="spacingAndGlyphs">hsa-miR-20b Corrected P-Value</text>
</g>
</g>

<!-- Panel C -->
<g id="panelC">
<text class="pl" x="723" y="1025">C</text>
<text class="sans" x="1044" y="1028.5" font-size="26" text-anchor="middle">TCGA-&gt;GEO</text>
<g stroke="#cccccc" stroke-width="1" stroke-dasharray="1.5 3">
<line x1="786" y1="1451.4" x2="1318" y2="1451.4"/><line x1="786" y1="1371.8" x2="1318" y2="1371.8"/><line x1="786" y1="1292.2" x2="1318" y2="1292.2"/><line x1="786" y1="1212.6" x2="1318" y2="1212.6"/><line x1="786" y1="1133" x2="1318" y2="1133"/>
</g>
<rect x="786" y="1053.4" width="532" height="477.6" fill="none" stroke="#000" stroke-width="1"/>
<g class="sans" font-size="16" text-anchor="middle">
<text transform="translate(765,1531) rotate(-90)">0.4</text>
<text transform="translate(765,1451.4) rotate(-90)">0.5</text>
<text transform="translate(765,1371.8) rotate(-90)">0.6</text>
<text transform="translate(765,1292.2) rotate(-90)">0.7</text>
<text transform="translate(765,1212.6) rotate(-90)">0.8</text>
<text transform="translate(765,1133) rotate(-90)">0.9</text>
<text transform="translate(765,1053.4) rotate(-90)">1.0</text>
<text x="845.4" y="1565">10</text><text x="963" y="1565">20</text><text x="1080.7" y="1565">30</text><text x="1198.3" y="1565">40</text><text x="1316" y="1565">50</text>
<text transform="translate(728,1293.5) rotate(-90)" font-size="15">Average AUC</text>
</g>
<polyline fill="none" stroke="#ff0000" stroke-width="3" points="787.2,1098.9 846.6,1108.4 905.6,1101.5 964.5,1114 1023,1117.6 1081.7,1126.8 1141.8,1181.1 1200,1224.4 1318,1264"/>
<polyline fill="none" stroke="#0000ff" stroke-width="3" points="787.2,1211.1 846.6,1213.7 905.6,1216.7 964.5,1222.2 1023,1266.2 1081.7,1306.2 1141.8,1354.9 1200,1440.1 1318,1448.5"/>
<g fill="#fff" stroke="#ff0000" stroke-width="2.5">
<circle cx="787.2" cy="1098.9" r="6"/><circle cx="846.6" cy="1108.4" r="6"/><circle cx="905.6" cy="1101.5" r="6"/><circle cx="964.5" cy="1114" r="6"/><circle cx="1023" cy="1117.6" r="6"/><circle cx="1081.7" cy="1126.8" r="6"/><circle cx="1141.8" cy="1181.1" r="6"/><circle cx="1200" cy="1224.4" r="6"/><circle cx="1318" cy="1264" r="6"/>
</g>
<g fill="#fff" stroke="#0000ff" stroke-width="2.5">
<path d="M787.2,1203.1 L794.7,1216.1 L779.7,1216.1 Z"/><path d="M846.6,1205.7 L854.1,1218.7 L839.1,1218.7 Z"/><path d="M905.6,1208.7 L913.1,1221.7 L898.1,1221.7 Z"/><path d="M964.5,1214.2 L972,1227.2 L957,1227.2 Z"/><path d="M1023,1258.2 L1030.5,1271.2 L1015.5,1271.2 Z"/><path d="M1081.7,1298.2 L1089.2,1311.2 L1074.2,1311.2 Z"/><path d="M1141.8,1346.9 L1149.3,1359.9 L1134.3,1359.9 Z"/><path d="M1200,1432.1 L1207.5,1445.1 L1192.5,1445.1 Z"/><path d="M1318,1440.5 L1325.5,1453.5 L1310.5,1453.5 Z"/>
</g>
<g id="c-legend">
<rect x="1206.6" y="1054.2" width="111.4" height="32.2" fill="#fff" stroke="#000" stroke-width="0.8"/>
<line x1="1209" y1="1064.4" x2="1226" y2="1064.4" stroke="#ff0000" stroke-width="1.2"/><circle cx="1217.6" cy="1064.4" r="2.4" fill="#fff" stroke="#ff0000" stroke-width="1"/>
<line x1="1209" y1="1075.4" x2="1226" y2="1075.4" stroke="#0000ff" stroke-width="1.2"/><path d="M1217.6,1072 L1220.6,1077.4 L1214.6,1077.4 Z" fill="#fff" stroke="#0000ff" stroke-width="1"/>
<text class="sans" x="1234" y="1067.6" font-size="8.5">TGCA-&gt;GSE21036</text>
<text class="sans" x="1234" y="1078.6" font-size="8.5">TCGA-&gt;GSE14794</text>
</g>
</g>
</g>
</svg>
